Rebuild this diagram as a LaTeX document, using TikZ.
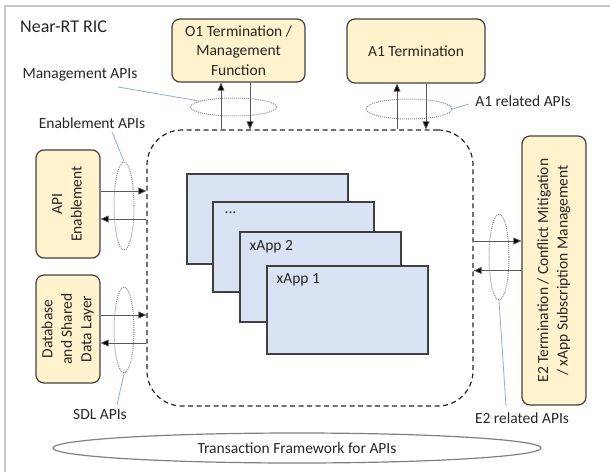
\documentclass[tikz,border=0pt]{standalone}
\usepackage{fontspec}
\setmainfont{Carlito}
\usepackage{graphicx}
\usetikzlibrary{arrows.meta,shapes.geometric}

\definecolor{funfill}{HTML}{FFF2CC}
\definecolor{appfill}{HTML}{DAE3F3}
\definecolor{edge}{HTML}{404040}
\definecolor{callout}{HTML}{8FAADC}
\definecolor{framegray}{HTML}{C8C8C8}
\definecolor{txt}{HTML}{262626}

\newcommand{\vstack}[1]{\rotatebox{90}{\begin{tabular}{@{}c@{}}#1\end{tabular}}}

\tikzset{
  funbox/.style={draw=edge, fill=funfill, line width=1.2pt, rounded corners=8pt,
    inner sep=0pt, align=center, text=txt},
  appbox/.style={draw=edge, fill=appfill, line width=1.2pt, inner sep=0pt,
    minimum width=161pt, minimum height=90pt},
  applabel/.style={anchor=north west, inner sep=0pt, text=txt},
  apiring/.style={draw=gray!90, densely dotted, line width=1pt, ellipse, inner sep=0pt},
  apiarrow/.style={draw=black!65, line width=0.8pt,
    -{Triangle[length=8pt,width=7pt,fill=black]}},
  calloutline/.style={draw=callout, line width=0.8pt},
  lbl/.style={inner sep=0pt, text=txt},
}

\begin{document}
\begin{tikzpicture}[x=1pt, y=-1pt,
  every node/.append style={font=\fontsize{15.5}{19.5}\selectfont}]
\useasboundingbox (0,0) rectangle (610,471);
\clip (0,0) rectangle (610,471);

% outer frame of the platform
\draw[framegray, line width=1.5pt] (5,6) rectangle (650,520);
\node[lbl, anchor=west, font=\fontsize{18}{22}\selectfont] (ric) at (20,27) {Near-RT RIC};

% dashed area hosting the xApps
\node[draw=txt, line width=1.2pt, dash pattern=on 5pt off 3.5pt,
  rounded corners=35pt, minimum width=326pt, minimum height=276pt,
  inner sep=0pt] (core) at (310,268) {};

% stacked xApps
\node[appbox] (xN) at (267.5,219) {};
\node[appbox] (xdots) at (293.5,247) {};
\node[appbox] (x2) at (320.5,277) {};
\node[appbox, minimum height=88pt] (x1) at (347.5,310) {};
\node[applabel] (tdots) at ([shift={(12,10)}]xdots.north west) {...};
\node[applabel] (t2) at ([shift={(10,9)}]x2.north west) {xApp 2};
\node[applabel] (t1) at ([shift={(10,8)}]x1.north west) {xApp 1};

% platform functions
\node[funbox, minimum width=133pt, minimum height=63pt] (o1) at (238.5,50.5)
  {O1 Termination /\\Management\\Function};
\node[funbox, minimum width=138pt, minimum height=64pt] (a1) at (416,51) {A1 Termination};
\node[funbox, minimum width=64pt, minimum height=108pt] (enab) at (68,204)
  {\vstack{API\\Enablement}};
\node[funbox, minimum width=64pt, minimum height=108pt] (sdl) at (68,329)
  {\vstack{Database\\and Shared\\Data Layer}};
\node[funbox, minimum width=64pt, minimum height=269pt] (e2) at (554,270.5)
  {\vstack{E2 Termination / Conflict Mitigation\\/ xApp Subscription Management}};

% arrow anchor points
\coordinate (o1up) at ([xshift=-17.5pt]o1.south);
\coordinate (o1dn) at ([xshift=11.5pt]o1.south);
\coordinate (a1up) at ([xshift=-19pt]a1.south);
\coordinate (a1dn) at ([xshift=10pt]a1.south);
\coordinate (enout) at ([yshift=13pt]enab.east);
\coordinate (enin) at ([yshift=-15pt]enab.east);
\coordinate (sdout) at ([yshift=14pt]sdl.east);
\coordinate (sdin) at ([yshift=-14pt]sdl.east);
\coordinate (e2in) at ([yshift=29.5pt]e2.west);
\coordinate (e2out) at (e2.west);

% API rings
\node[apiring, minimum width=86pt, minimum height=18pt] (ringmgmt) at (233.5,107) {};
\node[apiring, minimum width=86pt, minimum height=20pt] (ringa1) at (409,109) {};
\node[apiring, minimum width=20pt, minimum height=88pt] (ringen) at (124,206) {};
\node[apiring, minimum width=20pt, minimum height=86pt] (ringsdl) at (124,330) {};
\node[apiring, minimum width=20pt, minimum height=86pt] (ringe2) at (499,257) {};

% API flows
\draw[apiarrow] (o1up |- core.north) -- (o1up);
\draw[apiarrow] (o1dn) -- (o1dn |- core.north);
\draw[apiarrow] (a1up |- core.north) -- (a1up);
\draw[apiarrow] (a1dn) -- (a1dn |- core.north);
\draw[apiarrow] (enout) -- (enout -| core.west);
\draw[apiarrow] (enin -| core.west) -- (enin);
\draw[apiarrow] (sdout) -- (sdout -| core.west);
\draw[apiarrow] (sdin -| core.west) -- (sdin);
\draw[apiarrow] (e2in -| core.east) -- (e2in);
\draw[apiarrow] (e2out) -- (e2out -| core.east);

% API labels and their callouts
\node[lbl] (lmgmt) at (80,75) {Management APIs};
\node[lbl] (len) at (92,123) {Enablement APIs};
\node[lbl] (la1) at (523,101) {A1 related APIs};
\node[lbl] (lsdl) at (100,415) {SDL APIs};
\node[lbl] (le2) at (522,418) {E2 related APIs};
\coordinate (cmgmt) at (118,87);
\coordinate (cen) at (112,132);
\coordinate (ca1) at (469,104);
\coordinate (csdl) at (117,405);
\coordinate (ce2) at (506,406);
\draw[calloutline] (cmgmt) -- (ringmgmt.170);
\draw[calloutline] (cen) -- (ringen.north);
\draw[calloutline] (ca1) -- (ringa1.east);
\draw[calloutline] (csdl) -- (ringsdl.south);
\draw[calloutline] (ce2) -- (ringe2.south);

% common transaction layer
\node[draw=gray, line width=1.2pt, ellipse, minimum width=488pt, minimum height=30pt,
  inner sep=0pt, text=txt] (tfw) at (297,448) {Transaction Framework for APIs};
\end{tikzpicture}
\end{document}
